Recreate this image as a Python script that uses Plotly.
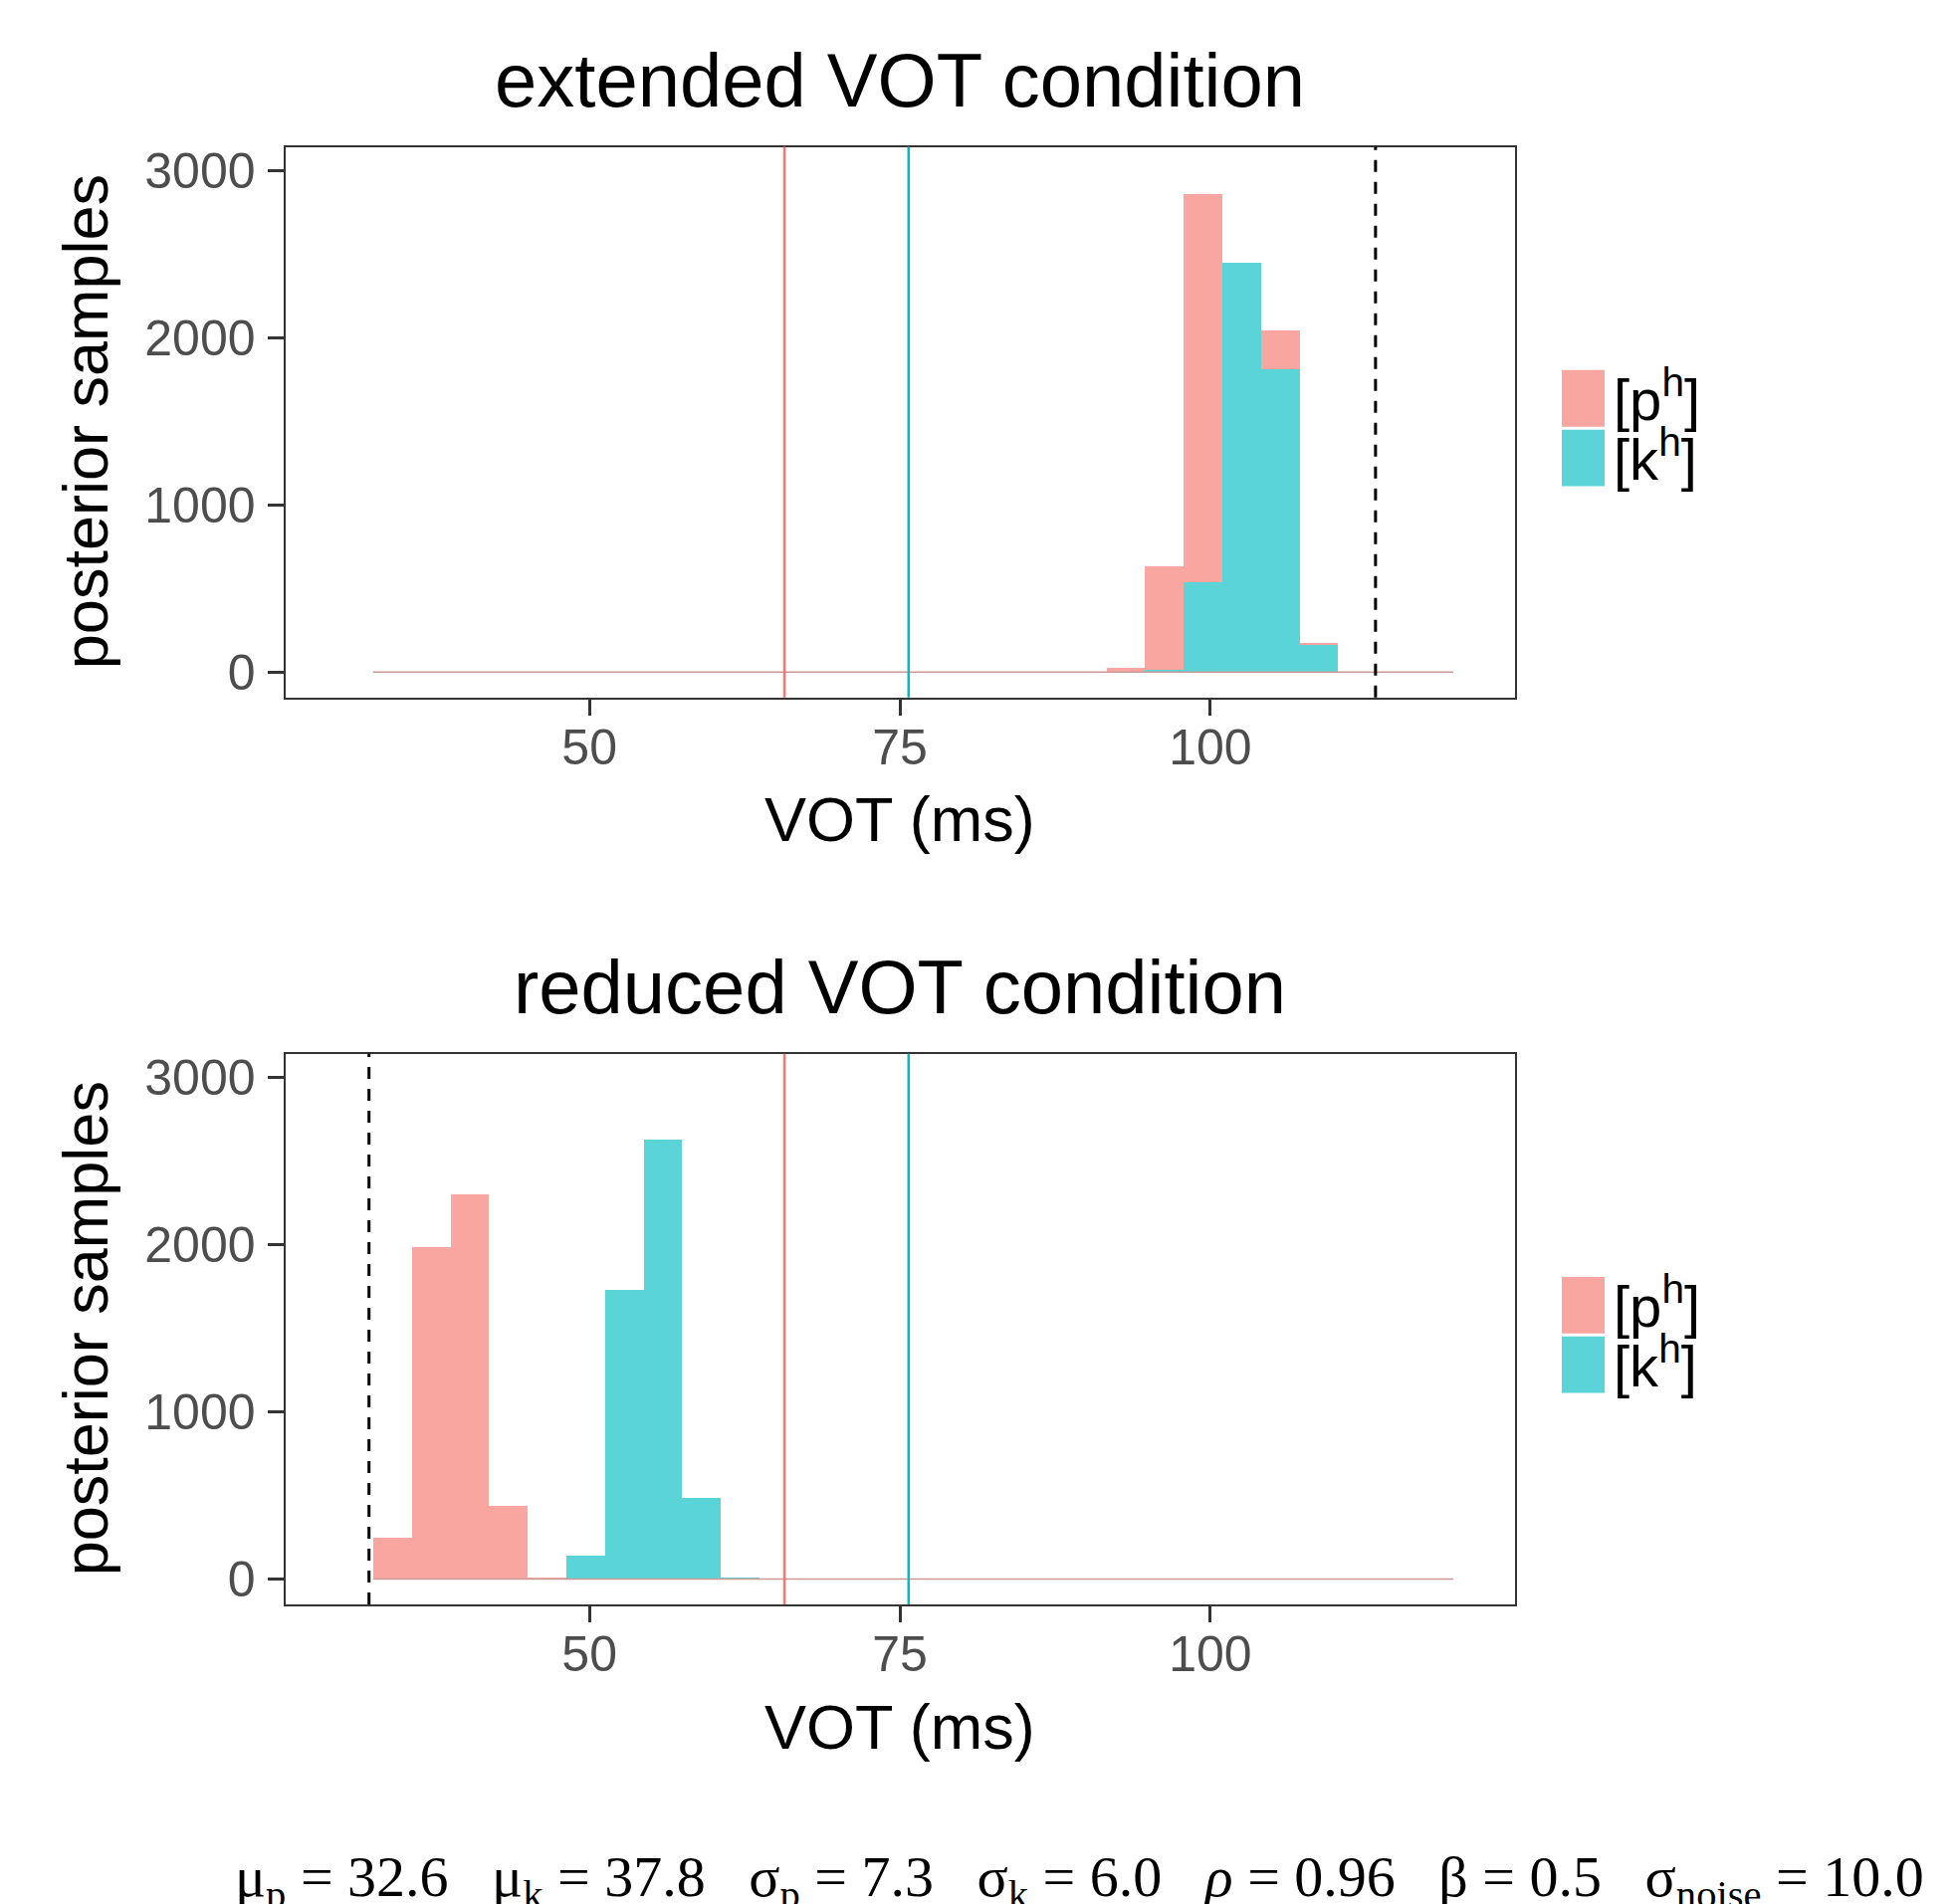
import plotly.graph_objects as go

# ---------------- data ----------------
bin_start = 32.57
bin_width = 3.107
n_bins = 28

# stacked histogram counts per bin (teal at bottom, pink stacked on top)
ext_k = [0, 0, 0, 0, 0, 0, 0, 0, 0, 0, 0, 0, 0, 0, 0, 0, 0, 0, 0, 2, 15, 543, 2455, 1815, 167, 0, 0, 0]
ext_p = [0, 0, 0, 0, 0, 0, 0, 0, 0, 0, 0, 0, 0, 0, 0, 0, 0, 0, 0, 25, 619, 2318, 0, 231, 5, 0, 0, 0]
red_k = [0, 0, 0, 0, 0, 140, 1730, 2631, 484, 10, 0, 0, 0, 0, 0, 0, 0, 0, 0, 0, 0, 0, 0, 0, 0, 0, 0, 0]
red_p = [249, 1986, 2306, 442, 10, 0, 0, 0, 0, 0, 0, 0, 0, 0, 0, 0, 0, 0, 0, 0, 0, 0, 0, 0, 0, 0, 0, 0]

category_means = {"p": 65.7, "k": 75.7}
exposure_marks = [113.3, 32.25]   # dashed line, extended / reduced
panel_titles = ["extended VOT condition", "reduced VOT condition"]
legend_labels = ["[p<sup>h</sup>]", "[k<sup>h</sup>]"]
x_ticks = [50, 75, 100]
y_ticks = [0, 1000, 2000, 3000]
params_text = ("μ<sub>p</sub> = 32.6   μ<sub>k</sub> = 37.8   σ<sub>p</sub> = 7.3   "
               "σ<sub>k</sub> = 6.0   <i>ρ</i> = 0.96   β = 0.5   σ<sub>noise</sub> = 10.0")

# ---------------- styling ----------------
W, H = 1962, 1913
PINK = "#F9A6A0"
TEAL = "#5AD4D7"
RED_LINE = "#F8766D"
TEAL_LINE = "#00BFC4"
SANS = "Liberation Sans"
SERIF = "Liberation Serif"

def px_x(px):
    return px / W

def px_y(py):
    return 1 - py / H

centers = [bin_start + (i + 0.5) * bin_width for i in range(n_bins)]
edges_span = [bin_start, bin_start + n_bins * bin_width]

panel_top = [145, 1059]
panel_h = 555
x_left, x_right = 286.5, 1521.6

fig = go.Figure()

panels = [(ext_k, ext_p), (red_k, red_p)]
for i, (kk, pp) in enumerate(panels):
    xa = "x" if i == 0 else "x2"
    ya = "y" if i == 0 else "y2"
    fig.add_trace(go.Scatter(x=edges_span, y=[0, 0], mode="lines",
                             line=dict(color="#C99A98", width=1.5),
                             xaxis=xa, yaxis=ya, showlegend=False, hoverinfo="skip"))
    fig.add_trace(go.Bar(x=centers, y=kk, width=bin_width, marker=dict(color=TEAL, line=dict(width=0)),
                         xaxis=xa, yaxis=ya, name="[k<sup>h</sup>]", showlegend=False))
    fig.add_trace(go.Bar(x=centers, y=pp, width=bin_width, marker=dict(color=PINK, line=dict(width=0)),
                         xaxis=xa, yaxis=ya, name="[p<sup>h</sup>]", showlegend=False))

axis_common = dict(
    range=[25.5, 124.5], tickvals=x_ticks, ticks="outside", ticklen=16, tickwidth=2.5,
    tickcolor="#333333", showline=True, linecolor="#333333", linewidth=2, mirror=True,
    showgrid=False, zeroline=False, tickfont=dict(family=SANS, size=50, color="#4D4D4D"),
    ticklabelstandoff=-11,
)
yaxis_common = dict(
    range=[-152, 3143], tickvals=y_ticks, ticks="outside", ticklen=16, tickwidth=2.5,
    tickcolor="#333333", showline=True, linecolor="#333333", linewidth=2, mirror=True,
    showgrid=False, zeroline=False, tickfont=dict(family=SANS, size=50, color="#4D4D4D"),
    ticklabelstandoff=2,
)

dom_x = [px_x(x_left), px_x(x_right)]
fig.update_layout(
    xaxis=dict(domain=dom_x, anchor="y", **axis_common),
    yaxis=dict(domain=[px_y(panel_top[0] + panel_h), px_y(panel_top[0])], anchor="x", **yaxis_common),
    xaxis2=dict(domain=dom_x, anchor="y2", **axis_common),
    yaxis2=dict(domain=[px_y(panel_top[1] + panel_h), px_y(panel_top[1])], anchor="x2", **yaxis_common),
)

shapes = []
annotations = []
for i in range(2):
    xr = "x" if i == 0 else "x2"
    yd = "y domain" if i == 0 else "y2 domain"
    shapes.append(dict(type="line", xref=xr, yref=yd, x0=category_means["p"], x1=category_means["p"],
                       y0=0, y1=1, line=dict(color=RED_LINE, width=2.5)))
    shapes.append(dict(type="line", xref=xr, yref=yd, x0=category_means["k"], x1=category_means["k"],
                       y0=0, y1=1, line=dict(color=TEAL_LINE, width=2.5)))
    shapes.append(dict(type="line", xref=xr, yref=yd, x0=exposure_marks[i], x1=exposure_marks[i],
                       y0=0, y1=1, line=dict(color="black", width=3, dash="12px,10px")))

    off = panel_top[i] - panel_top[0]
    # legend keys
    shapes.append(dict(type="rect", xref="paper", yref="paper", x0=px_x(1569), x1=px_x(1612),
                       y0=px_y(427 + off), y1=px_y(370 + off), fillcolor=PINK, line=dict(width=0)))
    shapes.append(dict(type="rect", xref="paper", yref="paper", x0=px_x(1569), x1=px_x(1612),
                       y0=px_y(487 + off), y1=px_y(430 + off), fillcolor=TEAL, line=dict(width=0)))
    for j, lab in enumerate(legend_labels):
        annotations.append(dict(text=lab, xref="paper", yref="paper", x=px_x(1619),
                                y=px_y(396 + 60 * j + off), xanchor="left", yanchor="middle",
                                showarrow=False, font=dict(family=SANS, size=58, color="black")))
    # panel title
    annotations.append(dict(text=panel_titles[i], xref="paper", yref="paper",
                            x=px_x((x_left + x_right) / 2), y=px_y(78 + off), xanchor="center",
                            yanchor="middle", showarrow=False,
                            font=dict(family=SANS, size=76, color="black")))
    # x axis title
    annotations.append(dict(text="VOT (ms)", xref="paper", yref="paper",
                            x=px_x((x_left + x_right) / 2), y=px_y(823 + off), xanchor="center",
                            yanchor="middle", showarrow=False,
                            font=dict(family=SANS, size=63, color="black")))
    # y axis title
    annotations.append(dict(text="posterior samples", xref="paper", yref="paper",
                            x=px_x(86), y=px_y(422.5 + off), xanchor="center", yanchor="middle",
                            textangle=-90, showarrow=False,
                            font=dict(family=SANS, size=63, color="black")))

annotations.append(dict(text=params_text.replace("   ", "\u00a0\u00a0\u00a0"), xref="paper", yref="paper",
                        x=px_x(234), y=px_y(1892), xanchor="left", yanchor="middle",
                        showarrow=False, font=dict(family=SERIF, size=58, color="black")))

fig.update_layout(
    width=W, height=H, margin=dict(l=0, r=0, t=0, b=0),
    paper_bgcolor="white", plot_bgcolor="white",
    barmode="stack", bargap=0, showlegend=False,
    font=dict(family=SANS),
    shapes=shapes, annotations=annotations,
)

fig.write_html("out.html", config={"displayModeBar": False},
               post_script="document.body.style.margin='0';document.body.style.overflow='hidden';")
